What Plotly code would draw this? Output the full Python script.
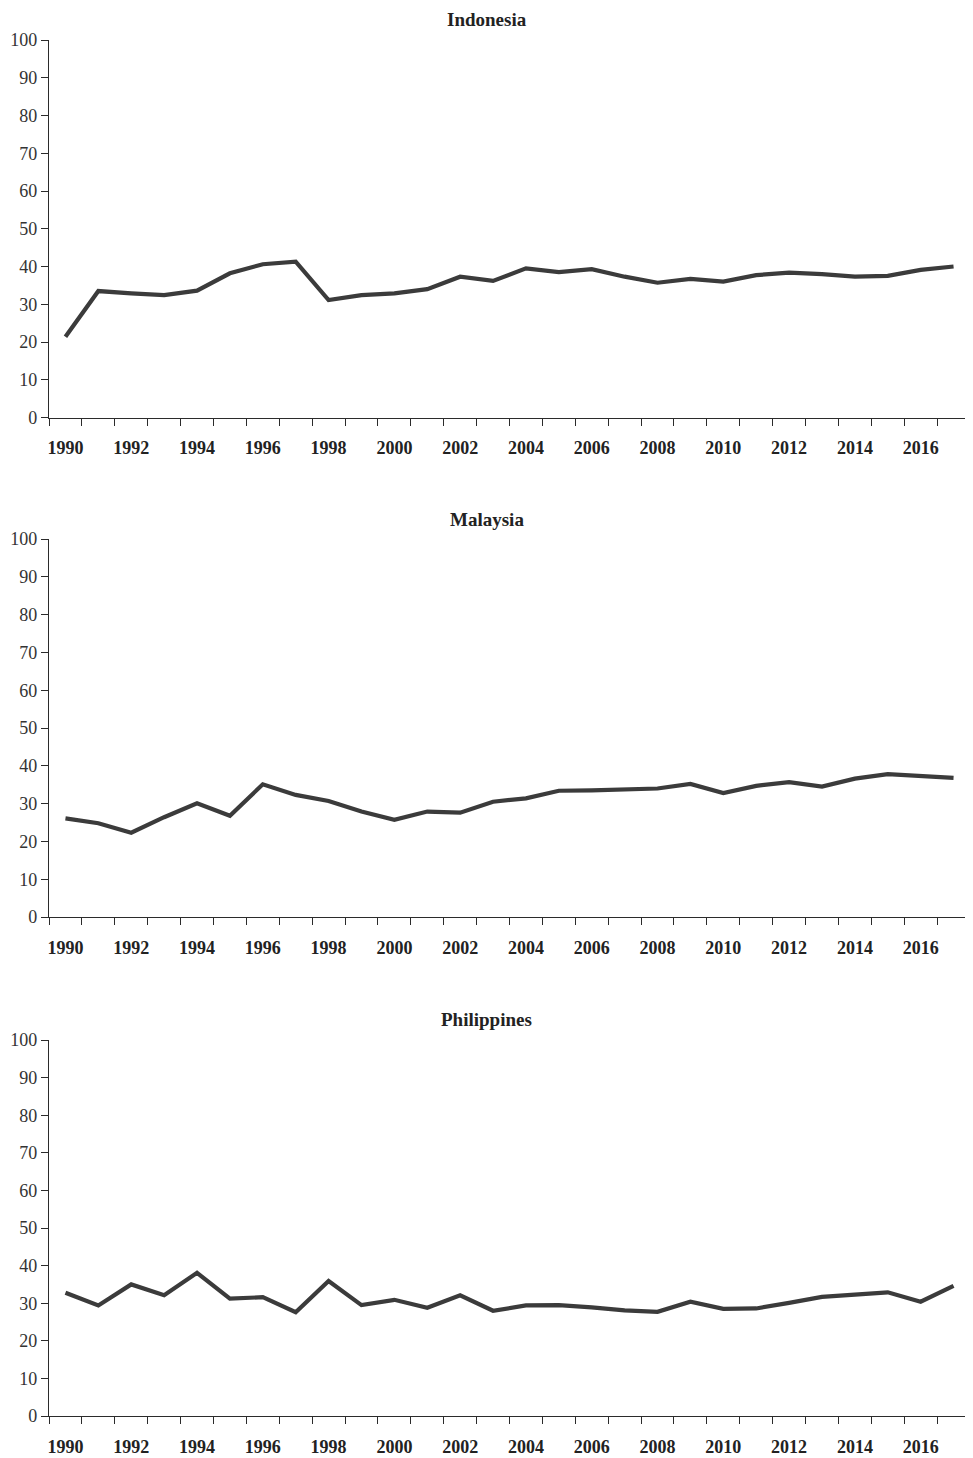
import plotly.graph_objects as go

years = list(range(1990, 2018))

indonesia = [21.4, 33.5, 32.9, 32.4, 33.6, 38.2, 40.6, 41.3, 31.1, 32.4,
             32.9, 34.0, 37.3, 36.2, 39.5, 38.5, 39.3, 37.3, 35.7, 36.7,
             36.0, 37.7, 38.4, 38.0, 37.3, 37.5, 39.1, 40.0]
malaysia = [26.1, 24.8, 22.3, 26.4, 30.1, 26.8, 35.1, 32.3, 30.7, 27.9,
            25.7, 27.9, 27.6, 30.5, 31.4, 33.4, 33.5, 33.8, 34.0, 35.2,
            32.8, 34.7, 35.7, 34.5, 36.6, 37.8, 37.2, 36.8]
philippines = [32.8, 29.4, 35.0, 32.1, 38.1, 31.2, 31.6, 27.6, 35.9, 29.5,
               30.9, 28.8, 32.1, 28.0, 29.4, 29.5, 28.9, 28.1, 27.7, 30.4,
               28.5, 28.6, 30.1, 31.7, 32.3, 32.9, 30.4, 34.6]

panel_titles = ["Indonesia", "Malaysia", "Philippines"]
series = [indonesia, malaysia, philippines]

x_labels = [y for y in years if y % 2 == 0]
y_ticks = list(range(0, 101, 10))

OFF = 8  # page body margin
W, H = 973 - OFF, 1458 - OFF
# pixel positions of each panel in the page (top, bottom)
panels_px = [(40, 417.5), (539, 917), (1040, 1416)]
title_top_px = [8, 508, 1008]

FONT = "Liberation Serif"
AX = "#2b2b2b"

fig = go.Figure()
layout = dict(
    width=W, height=H,
    margin=dict(l=49 - OFF, r=3, t=0, b=0),
    paper_bgcolor="white", plot_bgcolor="white",
    showlegend=False,
    font=dict(family=FONT, size=18, color="#333"),
)
annotations = []
for i, (name, vals) in enumerate(zip(panel_titles, series)):
    n = "" if i == 0 else str(i + 1)
    fig.add_trace(go.Scatter(
        x=years, y=vals, mode="lines",
        line=dict(color="#3b3b3b", width=4.2),
        xaxis="x" + n, yaxis="y" + n, hoverinfo="skip"))
    top, bot = panels_px[i]
    dom = [1 - (bot - OFF) / H, 1 - (top - OFF) / H]
    layout["xaxis" + n] = dict(
        domain=[0, 1], anchor="y" + n,
        range=[1989.5, 2017.5],
        tickmode="array", tickvals=x_labels, ticktext=[str(v) for v in x_labels],
        ticks="", showgrid=False, zeroline=False,
        showline=True, linecolor=AX, linewidth=1.2,
        tickfont=dict(family=FONT, size=18, color="#222", weight="bold"),
        ticklabelstandoff=14,
        automargin=False,
        minor=dict(tickmode="array", tickvals=[y - 0.5 for y in years] + [2017.5],
                   ticks="outside", ticklen=7, tickcolor=AX, tickwidth=1.2,
                   showgrid=False),
    )
    layout["yaxis" + n] = dict(
        domain=dom, anchor="x" + n,
        range=[0, 100],
        tickmode="array", tickvals=y_ticks,
        ticks="outside", ticklen=7, tickcolor=AX, tickwidth=1.2,
        showgrid=False, zeroline=False,
        showline=True, linecolor=AX, linewidth=1.2,
        tickfont=dict(family=FONT, size=18, color="#333"),
        automargin=False,
    )
    annotations.append(dict(
        text="<b>%s</b>" % name, xref="paper", yref="paper",
        x=(973 / 2 - 49) / (W - (49 - OFF) - 3), y=1 - (title_top_px[i] - OFF) / H,
        showarrow=False, font=dict(family=FONT, size=19, color="#222"),
        yanchor="top", xanchor="center", borderpad=0))

layout["annotations"] = annotations
fig.update_layout(**layout)
fig.write_html("out.html")
